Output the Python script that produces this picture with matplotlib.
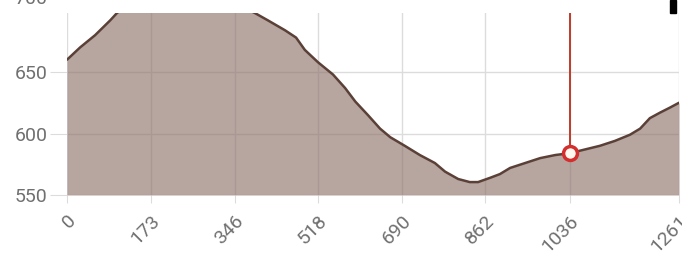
import matplotlib.pyplot as plt
from matplotlib.patches import Rectangle

# distance (m) and elevation (m)
distance = [0, 27, 58, 89, 103, 130, 170, 220, 280, 340, 387, 414, 449, 472, 490,
            517, 548, 573, 594, 620, 645, 666, 696, 727, 758, 779, 806, 830, 847,
            872, 892, 913, 944, 975, 1006, 1036, 1067, 1098, 1129, 1160, 1181,
            1201, 1222, 1242, 1261]
elevation = [660, 670, 680, 692, 698, 706, 714, 719, 716, 707, 698, 692, 684, 678, 668,
             658, 648, 637, 626, 615, 604, 597, 590, 582.5, 576, 569, 563, 560.5, 560.5,
             564, 567, 572, 576, 580, 582.5, 584, 587, 590, 594, 599, 604,
             612.5, 617, 621, 625]
x_ticks = [0, 173, 346, 518, 690, 862, 1036, 1261]
y_ticks = [550, 600, 650, 700]
hover_x, hover_y = 1036, 584

plt.rcParams['font.family'] = ['Roboto', 'DejaVu Sans']

fig = plt.figure(figsize=(6.82, 2.57), dpi=100)
ax = fig.add_axes([67 / 682, 62 / 257, 612 / 682, 182 / 257])

ax.fill_between(distance, elevation, 550, color='#8b6f66', alpha=0.62, lw=0, zorder=2)
ax.plot(distance, elevation, color='#5a4037', lw=1.8, zorder=3, solid_capstyle='round')

ax.set_xlim(0, 1261)
ax.set_ylim(550, 698)

# hover guide: from the point up to the top of the plot
ax.vlines(hover_x, hover_y, ax.get_ylim()[1], color='#bf3a2b', lw=1.4, zorder=4)
ax.plot(hover_x, hover_y, 'o', ms=10, mfc='#fff8ee', mec='#d32f2f', mew=2.5, zorder=5)

ax.set_xticks(x_ticks)
ax.set_xticklabels([str(t) for t in x_ticks], rotation=45, ha='right',
                   rotation_mode='anchor')
ax.set_yticks(y_ticks[:-1])
ax.grid(True, color='#dcdcdc', lw=1, zorder=1)
ax.tick_params(axis='y', length=12, color='#dcdcdc', pad=2, labelsize=14, labelcolor='#707070')
ax.tick_params(axis='x', length=6, color='#dcdcdc', pad=6, labelsize=14, labelcolor='#707070')
for s in ax.spines.values():
    s.set_visible(False)

# top label, mostly cut off by the crop
ax.annotate(str(y_ticks[-1]), xy=(-20 / 612, y_ticks[-1]), xycoords=ax.get_yaxis_transform(),
            xytext=(0, 8), textcoords='offset points', ha='right', va='center',
            fontsize=14, color='#707070', annotation_clip=False)

# piece of a tooltip peeking in at the top right
fig.patches.append(Rectangle((670 / 682, 244 / 257), 6 / 682, 13 / 257,
                             transform=fig.transFigure, color='black'))

fig.savefig('out.png', dpi=100)
